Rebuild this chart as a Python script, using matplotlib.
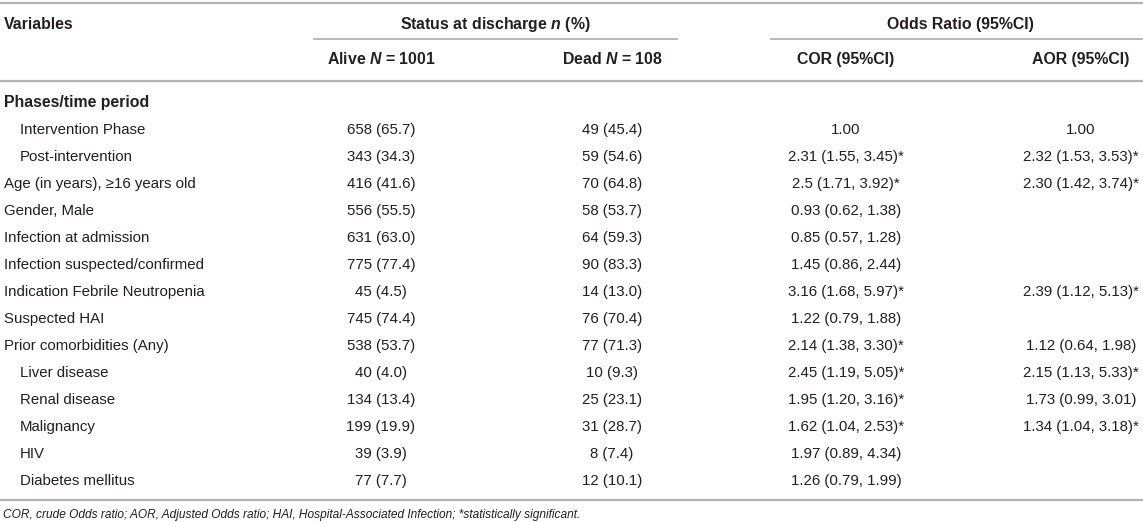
import matplotlib
matplotlib.use('Agg')
import matplotlib.pyplot as plt

plt.rcParams['font.family'] = ['Liberation Sans', 'DejaVu Sans']
plt.rcParams['mathtext.fontset'] = 'custom'
plt.rcParams['mathtext.it'] = 'Liberation Sans:italic:bold'
plt.rcParams['mathtext.rm'] = 'Liberation Sans:bold'

# table content
variables = ['Phases/time period', 'Intervention Phase', 'Post-intervention',
             'Age (in years), \u226516 years old', 'Gender, Male', 'Infection at admission',
             'Infection suspected/confirmed', 'Indication Febrile Neutropenia',
             'Suspected HAI', 'Prior comorbidities (Any)', 'Liver disease',
             'Renal disease', 'Malignancy', 'HIV', 'Diabetes mellitus']
indented = [0, 1, 1, 0, 0, 0, 0, 0, 0, 0, 1, 1, 1, 1, 1]
alive = ['', '658 (65.7)', '343 (34.3)', '416 (41.6)', '556 (55.5)', '631 (63.0)',
         '775 (77.4)', '45 (4.5)', '745 (74.4)', '538 (53.7)', '40 (4.0)',
         '134 (13.4)', '199 (19.9)', '39 (3.9)', '77 (7.7)']
dead = ['', '49 (45.4)', '59 (54.6)', '70 (64.8)', '58 (53.7)', '64 (59.3)',
        '90 (83.3)', '14 (13.0)', '76 (70.4)', '77 (71.3)', '10 (9.3)',
        '25 (23.1)', '31 (28.7)', '8 (7.4)', '12 (10.1)']
cor = ['', '1.00', '2.31 (1.55, 3.45)*', '2.5 (1.71, 3.92)*', '0.93 (0.62, 1.38)',
       '0.85 (0.57, 1.28)', '1.45 (0.86, 2.44)', '3.16 (1.68, 5.97)*',
       '1.22 (0.79, 1.88)', '2.14 (1.38, 3.30)*', '2.45 (1.19, 5.05)*',
       '1.95 (1.20, 3.16)*', '1.62 (1.04, 2.53)*', '1.97 (0.89, 4.34)',
       '1.26 (0.79, 1.99)']
aor = ['', '1.00', '2.32 (1.53, 3.53)*', '2.30 (1.42, 3.74)*', '', '', '',
       '2.39 (1.12, 5.13)*', '', '1.12 (0.64, 1.98)', '2.15 (1.13, 5.33)*',
       '1.73 (0.99, 3.01)', '1.34 (1.04, 3.18)*', '', '']
footnote = ('COR, crude Odds ratio; AOR, Adjusted Odds ratio; HAI, Hospital-Associated '
            'Infection; *statistically significant.')

W, H = 1143, 522
fig = plt.figure(figsize=(W / 100, H / 100), dpi=100)
ax = fig.add_axes([0, 0, 1, 1])
ax.set_xlim(0, W)
ax.set_ylim(H, 0)
ax.axis('off')

txt = '#231f20'
rule = '#b3b3b3'
fs = 10.8
hfs = 11.4
col_x = [381, 612, 846, 1081]

# rules
ax.plot([0, W], [3, 3], color=rule, lw=1.6)
ax.plot([314, 677], [39, 39], color=rule, lw=1.3)
ax.plot([771, W], [39, 39], color=rule, lw=1.3)
ax.plot([0, W], [81, 81], color=rule, lw=1.6)
ax.plot([0, W], [500, 500], color=rule, lw=1.6)

# headers
ax.text(4, 29, 'Variables', fontsize=hfs, fontweight='bold', color=txt, va='baseline')
ax.text(495, 29, r'Status at discharge $\mathit{n}$ (%)', fontsize=hfs, fontweight='bold',
        color=txt, ha='center', va='baseline')
ax.text(960, 29, 'Odds Ratio (95%CI)', fontsize=hfs, fontweight='bold', color=txt,
        ha='center', va='baseline')
headers = [r'Alive $\mathit{N}$ = 1001', r'Dead $\mathit{N}$ = 108', 'COR (95%CI)', 'AOR (95%CI)']
for x, h in zip(col_x, headers):
    ax.text(x, 64, h, fontsize=hfs, fontweight='bold', color=txt, ha='center', va='baseline')

# body
y0, dy = 103, 27
for i, name in enumerate(variables):
    y = y0 + i * dy + 4
    if i == 0:
        ax.text(4, y, name, fontsize=hfs, fontweight='bold', color=txt, va='baseline')
    else:
        ax.text(20 if indented[i] else 4, y, name, fontsize=fs, color=txt, va='baseline')
    for x, col in zip(col_x, [alive, dead, cor, aor]):
        if col[i]:
            ax.text(x, y, col[i], fontsize=fs, color=txt, ha='center', va='baseline')

ax.text(3, 518, footnote, fontsize=8.6, style='italic', color=txt, va='baseline')

fig.savefig('out.png', dpi=100)
